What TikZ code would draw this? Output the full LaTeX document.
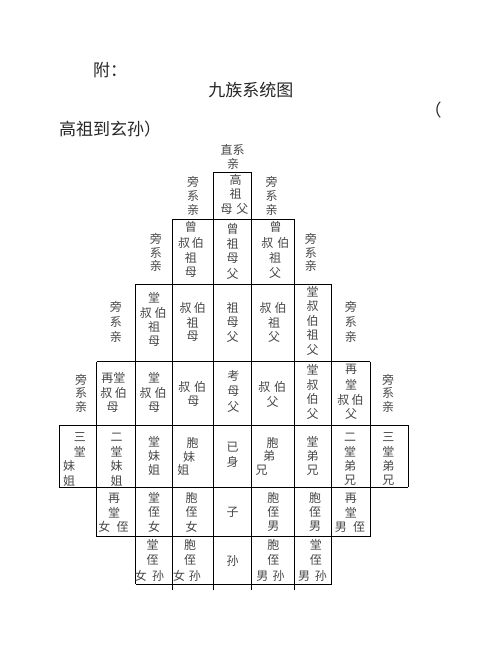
\documentclass[tikz,border=0pt]{standalone}
\usepackage{fontspec}
\newfontfamily\cjk{Noto Sans CJK SC}
\newcounter{tn}
\newcommand\gp[1]{\hspace{#1pt}}
\newcommand\cel[3]{\stepcounter{tn}\node[txt] (t\arabic{tn}) at (#1,#2) {#3};}
\begin{document}
\begin{tikzpicture}[x=1pt,y=-1pt,
  txt/.style={inner sep=0pt,text=black!72,font=\cjk\fontsize{12}{13}\selectfont},
  head/.style={inner sep=0pt,text=black!85,font=\cjk\fontsize{17}{20}\selectfont},
  gridline/.style={line width=0.9pt,black}]
\fill[white] (0,0) rectangle (502,649);
% headers
\node[head,anchor=west] (h1) at (93,70.5) {附：};
\node[head] (h2) at (250.8,90) {九族系统图};
\node[head] (h3) at (433,110) {（};
\node[head,anchor=west] (h4) at (59,129) {高祖到玄孙）};
% horizontal lines
\draw[gridline] (213.3,172.3) -- (251.7,172.3);
\draw[gridline] (172.7,219) -- (294.3,219);
\draw[gridline] (135.5,284.3) -- (331.8,284.3);
\draw[gridline] (96.7,361.7) -- (370,361.7);
\draw[gridline] (59.3,425.3) -- (408.3,425.3);
\draw[gridline] (59.3,487.3) -- (408.3,487.3);
\draw[gridline] (96.7,536.7) -- (370,536.7);
\draw[gridline] (135.5,584.3) -- (331.8,584.3);
% vertical lines
\draw[gridline] (59.3,425.3) -- (59.3,487.3);
\draw[gridline] (96.7,361.7) -- (96.7,536.7);
\draw[gridline] (135.5,284.3) -- (135.5,584.3);
\draw[gridline] (172.7,219) -- (172.7,590);
\draw[gridline] (213.3,172.3) -- (213.3,590);
\draw[gridline] (251.7,172.3) -- (251.7,590);
\draw[gridline] (294.3,219) -- (294.3,590);
\draw[gridline] (331.8,284.3) -- (331.8,584.3);
\draw[gridline] (370,361.7) -- (370,536.7);
\draw[gridline] (408.3,425.3) -- (408.3,487.3);
% top
\cel{232.5}{150}{直系}
\cel{233}{163.5}{亲}
% row 1
\cel{193}{181.7}{旁}\cel{193}{195.5}{系}\cel{193}{209.5}{亲}
\cel{271.7}{181.7}{旁}\cel{271.7}{195.5}{系}\cel{271.7}{209.5}{亲}
\cel{235.5}{180}{高}\cel{235.5}{194.3}{祖}\cel{234.6}{209}{母\gp{3.8}父}
% row 2
\cel{155.8}{239}{旁}\cel{155.8}{252.5}{系}\cel{155.8}{266}{亲}
\cel{310.8}{239}{旁}\cel{310.8}{252.5}{系}\cel{310.8}{266}{亲}
\cel{190.8}{226.7}{曾}\cel{191}{242.5}{叔\gp{1.6}伯}\cel{190.8}{257.5}{祖}\cel{190.8}{272.5}{母}
\cel{232.5}{229}{曾}\cel{232.5}{243.5}{祖}\cel{232.5}{258.5}{母}\cel{232.5}{273.5}{父}
\cel{275.5}{226.7}{曾}\cel{275.3}{242.5}{叔\gp{4}伯}\cel{275}{257.5}{祖}\cel{275}{272.5}{父}
% row 3
\cel{115.8}{307}{旁}\cel{115.8}{321.7}{系}\cel{115.8}{336.5}{亲}
\cel{350.8}{307}{旁}\cel{350.8}{321.7}{系}\cel{350.8}{336.5}{亲}
\cel{154.2}{297.5}{堂}\cel{153.3}{312.5}{叔\gp{2.7}伯}\cel{154}{327}{祖}\cel{154}{341}{母}
\cel{192.8}{308.3}{叔\gp{2.3}伯}\cel{192.5}{322.5}{祖}\cel{192.5}{336.7}{母}
\cel{232.5}{308.3}{祖}\cel{232.5}{322.5}{母}\cel{232.5}{336.7}{父}
\cel{273.2}{308.3}{叔\gp{3}伯}\cel{274}{322.5}{祖}\cel{274}{336.7}{父}
\cel{312.5}{291.5}{堂}\cel{312.5}{306}{叔}\cel{312.5}{320.5}{伯}\cel{312.5}{335}{祖}\cel{312.5}{349.5}{父}
% row 4
\cel{81}{379.5}{旁}\cel{81}{393.3}{系}\cel{81}{407}{亲}
\cel{388}{379.5}{旁}\cel{388}{393.3}{系}\cel{388}{407}{亲}
\cel{113.4}{378}{再堂}\cel{113.6}{393.3}{叔\gp{2.5}伯}\cel{112.5}{407.5}{母}
\cel{154.2}{378}{堂}\cel{153.2}{393.3}{叔\gp{3}伯}\cel{154.2}{407.5}{母}
\cel{192.2}{386.5}{叔\gp{3.7}伯}\cel{193.3}{401.5}{母}
\cel{233.3}{375.5}{考}\cel{233.3}{391}{母}\cel{233.3}{406.5}{父}
\cel{272.2}{386.5}{叔\gp{3.7}伯}\cel{272.5}{401.5}{父}
\cel{312.5}{370}{堂}\cel{312.5}{384.5}{叔}\cel{312.5}{399}{伯}\cel{312.5}{413.5}{父}
\cel{351}{369.5}{再}\cel{351}{384.5}{堂}\cel{350.5}{399.5}{叔\gp{2.5}伯}\cel{351}{414}{父}
% row 5
\cel{80}{437}{三}\cel{80}{451.5}{堂}\cel{69.2}{466}{妹}\cel{69.2}{480.5}{姐}
\cel{116.5}{437}{二}\cel{116.5}{451.5}{堂}\cel{116.5}{466}{妹}\cel{116.5}{480.5}{姐}
\cel{154.2}{442}{堂}\cel{154.2}{456}{妹}\cel{154.2}{470}{姐}
\cel{192.5}{443}{胞}\cel{189.2}{456.5}{妹}\cel{183.3}{470}{姐}
\cel{232.5}{447.5}{已}\cel{232.5}{462}{身}
\cel{272.5}{442.5}{胞}\cel{269.2}{455.5}{弟}\cel{261.7}{470}{兄}
\cel{312.5}{442}{堂}\cel{312.5}{456}{弟}\cel{312.5}{470}{兄}
\cel{350}{437}{二}\cel{350}{451.5}{堂}\cel{350}{466}{弟}\cel{350}{480.5}{兄}
\cel{388.3}{437}{三}\cel{388.3}{451.5}{堂}\cel{388.3}{466}{弟}\cel{388.3}{480.5}{兄}
% row 6
\cel{114.2}{498}{再}\cel{114.2}{512.3}{堂}\cel{113.4}{526.7}{女\gp{6.3}侄}
\cel{154}{498}{堂}\cel{154}{512.3}{侄}\cel{154}{526.7}{女}
\cel{191.5}{498}{胞}\cel{191.5}{512.3}{侄}\cel{191.5}{526.7}{女}
\cel{232.5}{512}{子}
\cel{273.3}{498}{胞}\cel{273.3}{512.3}{侄}\cel{273.3}{526.7}{男}
\cel{315}{498}{胞}\cel{315}{512.3}{侄}\cel{315}{526.7}{男}
\cel{350.8}{498}{再}\cel{350.8}{512.3}{堂}\cel{350}{526.7}{男\gp{6.3}侄}
% row 7
\cel{152.5}{545}{堂}\cel{152.5}{560}{侄}\cel{149.5}{575.8}{女\gp{5.5}孙}
\cel{190}{545}{胞}\cel{190}{560}{侄}\cel{187}{575.8}{女\gp{3.8}孙}
\cel{232.5}{560.5}{孙}
\cel{273.3}{545}{胞}\cel{273.3}{560}{侄}\cel{270.6}{575.8}{男\gp{4.3}孙}
\cel{315.8}{545}{堂}\cel{315.8}{560}{侄}\cel{312.5}{575.8}{男\gp{4.6}孙}
\end{tikzpicture}
\end{document}
